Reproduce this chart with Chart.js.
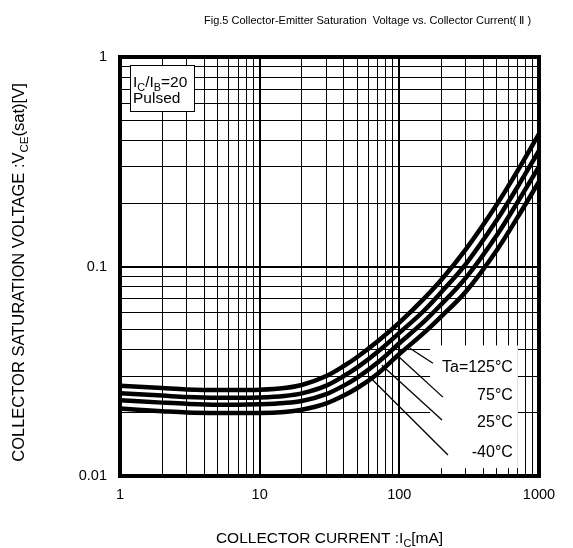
<!DOCTYPE html>
<html><head><meta charset="utf-8">
<script src="https://cdn.jsdelivr.net/npm/chart.js@4.4.1/dist/chart.umd.min.js"></script>
<style>html,body{margin:0;padding:0;background:#fff}canvas{display:block}</style>
</head><body>
<canvas id="c" width="573" height="548"></canvas>
<script>
// ---- data ----
const currentMA = [1, 2, 3, 5, 7, 10, 15, 20, 30, 40, 50, 70, 100, 150, 200, 300, 500, 700, 1000];
const vceM40 = [0.0270, 0.0263, 0.0259, 0.0257, 0.0257, 0.0258, 0.0263, 0.0272, 0.0300, 0.0335, 0.0370, 0.0440, 0.0540, 0.0703, 0.0865, 0.121, 0.198, 0.285, 0.430];
const vce25  = [0.0248, 0.0242, 0.0238, 0.0236, 0.0236, 0.0237, 0.0241, 0.0248, 0.0270, 0.0300, 0.0330, 0.0392, 0.0482, 0.0615, 0.0755, 0.103, 0.167, 0.239, 0.357];
const vce75  = [0.0230, 0.0224, 0.0221, 0.0219, 0.0219, 0.0220, 0.0223, 0.0228, 0.0246, 0.0270, 0.0295, 0.0348, 0.0430, 0.0545, 0.0660, 0.0885, 0.1415, 0.202, 0.300];
const vce125 = [0.0210, 0.0204, 0.0201, 0.0200, 0.0200, 0.0200, 0.0202, 0.0207, 0.0222, 0.0242, 0.0263, 0.0308, 0.0382, 0.0482, 0.0578, 0.0760, 0.120, 0.171, 0.254];

const xTickValues = [1,2,3,4,5,6,7,8,9,10,20,30,40,50,60,70,80,90,100,200,300,400,500,600,700,800,900,1000];
const xTickLabels = {1:'1', 10:'10', 100:'100', 1000:'1000'};
const yTickValues = [0.01,0.02,0.03,0.04,0.05,0.06,0.07,0.08,0.09,0.1,0.2,0.3,0.4,0.5,0.6,0.7,0.8,0.9,1];
const yTickLabels = ['0.01','0.1','1'];
const yMajor = [0.01, 0.1, 1];

const tempLabels = ['Ta=125°C', '75°C', '25°C', '-40°C'];
const tempLabelV = [0.0330, 0.0243, 0.0179, 0.0130];
const tempLabelI = 650;
const leaderStartI = [174, 205, 202, 223];
const leaderStartV = [0.0345, 0.0238, 0.0185, 0.0126];
const leaderEndI = [119, 100, 75, 61.6];
const leaderEndV = [0.0407, 0.0369, 0.0338, 0.0296];
const labelBoxI = [166, 706];
const labelBoxV = [0.0109, 0.042];

const titleText = 'Fig.5 Collector-Emitter Saturation  Voltage vs. Collector Current( Ⅱ )';
const FONT = "'Liberation Sans', Arial, Helvetica, sans-serif";

function isDecade(v){ const l = Math.log10(v); return Math.abs(l - Math.round(l)) < 1e-6; }
function pts(ys){ return currentMA.map((x,i)=>({x, y: ys[i]})); }

const curveStyle = {borderColor:'#000', borderWidth:4.5, pointRadius:0, cubicInterpolationMode:'monotone', fill:false, order:0};
const datasets = [
  Object.assign({label:'-40°C', data: pts(vceM40)}, curveStyle),
  Object.assign({label:'25°C', data: pts(vce25)}, curveStyle),
  Object.assign({label:'75°C', data: pts(vce75)}, curveStyle),
  Object.assign({label:'125°C', data: pts(vce125)}, curveStyle),
];
tempLabels.forEach((t,i)=>{
  datasets.push({label:'leader '+t, data:[{x:leaderStartI[i], y:leaderStartV[i]},{x:leaderEndI[i], y:leaderEndV[i]}],
    borderColor:'#000', borderWidth:1.3, pointRadius:0, tension:0, order:1});
});

function drawRich(ctx, parts, x, y, size, align){
  let w = 0;
  parts.forEach(p=>{ ctx.font = (p.sub? size*0.7 : size) + 'px ' + FONT; w += ctx.measureText(p.t).width; });
  let cx = align==='center' ? x - w/2 : x;
  parts.forEach(p=>{
    ctx.font = (p.sub? size*0.7 : size) + 'px ' + FONT;
    ctx.fillText(p.t, cx, p.sub ? y + size*0.25 : y);
    cx += ctx.measureText(p.t).width;
  });
}

const annot = {
  id:'annot',
  beforeDatasetsDraw(chart){
    const {ctx, scales:{x, y}, chartArea:a} = chart;
    ctx.save();
    ctx.fillStyle = '#fff';
    const bx0 = x.getPixelForValue(labelBoxI[0]), bx1 = x.getPixelForValue(labelBoxI[1]);
    const by0 = y.getPixelForValue(labelBoxV[1]), by1 = y.getPixelForValue(labelBoxV[0]);
    ctx.fillRect(bx0, by0, bx1-bx0, by1-by0);
    ctx.fillRect(a.left+10, a.top+8, 64, 46);
    ctx.strokeStyle = '#000'; ctx.lineWidth = 1;
    ctx.strokeRect(a.left+10.5, a.top+8.5, 64, 46);
    ctx.restore();
  },
  afterDatasetsDraw(chart){
    const {ctx, scales:{x, y}, chartArea:a} = chart;
    ctx.save();
    ctx.strokeStyle = '#000'; ctx.lineWidth = 4;
    ctx.strokeRect(a.left, a.top, a.right-a.left, a.bottom-a.top);
    ctx.fillStyle = '#000'; ctx.textBaseline = 'middle'; ctx.textAlign = 'right';
    ctx.font = '16px ' + FONT;
    tempLabels.forEach((t,i)=>{
      ctx.fillText(t, x.getPixelForValue(tempLabelI), y.getPixelForValue(tempLabelV[i]));
    });
    ctx.textAlign = 'left'; ctx.textBaseline = 'alphabetic';
    drawRich(ctx, [{t:'I'},{t:'C',sub:true},{t:'/I'},{t:'B',sub:true},{t:'=20'}], a.left+13, a.top+30, 15.5, 'left');
    drawRich(ctx, [{t:'Pulsed'}], a.left+13, a.top+46, 15.5, 'left');
    ctx.restore();
  },
  afterDraw(chart){
    const {ctx, chartArea:a} = chart;
    ctx.save();
    ctx.fillStyle = '#000'; ctx.textBaseline = 'alphabetic'; ctx.textAlign = 'left';
    ctx.font = '11px ' + FONT;
    ctx.fillText(titleText, 204, 24);
    drawRich(ctx, [{t:'COLLECTOR CURRENT :I'},{t:'C',sub:true},{t:'[mA]'}], (a.left+a.right)/2, 543, 15.5, 'center');
    ctx.translate(24, (a.top+a.bottom)/2 + 6);
    ctx.rotate(-Math.PI/2);
    drawRich(ctx, [{t:'COLLECTOR SATURATION VOLTAGE :V'},{t:'CE',sub:true},{t:'(sat)[V]'}], 0, 0, 16.5, 'center');
    ctx.restore();
  }
};

new Chart(document.getElementById('c'), {
  type:'line',
  data:{datasets},
  options:{
    responsive:false, animation:false, devicePixelRatio:1,
    layout:{padding:{top:57, right:34, left:0, bottom:0}},
    plugins:{legend:{display:false}, tooltip:{enabled:false}},
    scales:{
      x:{type:'logarithmic', min:1, max:1000,
        afterBuildTicks(s){ s.ticks = xTickValues.map(v=>({value:v})); },
        afterFit(s){ s.height = 72; },
        ticks:{autoSkip:false, maxRotation:0, padding:10, color:'#000', font:{family:FONT, size:14.5},
          callback:(v)=> xTickLabels[v] !== undefined && isDecade(v) ? xTickLabels[v] : ''},
        grid:{drawTicks:false, color:'#000', lineWidth:(c)=> isDecade(c.tick.value) ? 2 : 1},
        border:{display:false}
      },
      y:{type:'logarithmic', min:0.01, max:1,
        afterBuildTicks(s){ s.ticks = yTickValues.map(v=>({value:v})); },
        afterFit(s){ s.width = 120; },
        ticks:{autoSkip:false, padding:13, color:'#000', font:{family:FONT, size:14.5},
          callback:(v)=>{ const k = yMajor.findIndex(m=>Math.abs(m-v)<1e-9); return k>=0 ? yTickLabels[k] : ''; }},
        grid:{drawTicks:false, color:'#000', lineWidth:(c)=> isDecade(c.tick.value) ? 2 : 1},
        border:{display:false}
      }
    }
  },
  plugins:[annot]
});
</script>
</body></html>
